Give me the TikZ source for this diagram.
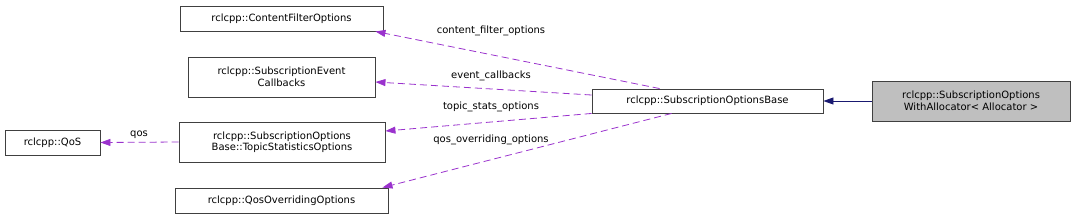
\documentclass[tikz,border=0pt]{standalone}
\usepackage{fontspec}
\setmainfont{DejaVu Sans}
\usetikzlibrary{calc,arrows.meta}
\definecolor{edgepurple}{HTML}{9A32CD}
\definecolor{inhnavy}{HTML}{191970}
\tikzset{
  cls/.style={draw=black!75, line width=0.9pt, inner sep=2pt, align=center, font=\fontsize{10}{11.5}\selectfont, minimum height=#1},
  cls/.default=25pt,
  usage/.style={draw=edgepurple, dashed, dash pattern=on 7pt off 4pt, line width=0.8pt, -{Triangle[length=10pt,width=7pt]}},
  inh/.style={draw=inhnavy, line width=0.8pt, -{Triangle[length=10pt,width=7pt,fill=inhnavy]}},
  elabel/.style={font=\fontsize{10}{11.5}\selectfont, inner sep=1pt}
}
\begin{document}
\begin{tikzpicture}[x=1pt,y=-1pt]
\useasboundingbox (0,0) rectangle (1076,220);
\node[cls, minimum width=203pt] (cfo) at (281.5,18.5) {rclcpp::ContentFilterOptions};
\node[cls=40pt, minimum width=187pt] (sec) at (281.5,77) {rclcpp::SubscriptionEvent\\Callbacks};
\node[cls=40pt, minimum width=206pt] (tso) at (282,142) {rclcpp::SubscriptionOptions\\Base::TopicStatisticsOptions};
\node[cls, minimum width=213pt] (qoo) at (281.5,200.5) {rclcpp::QosOverridingOptions};
\node[cls, minimum width=95pt] (qos) at (52.5,142.5) {rclcpp::QoS};
\node[cls=24pt, minimum width=231pt] (base) at (707.5,101) {rclcpp::SubscriptionOptionsBase};
\node[cls=40pt, minimum width=198pt, fill=black!25] (wa) at (971,101) {rclcpp::SubscriptionOptions\\WithAllocator< Allocator >};

\draw[inh] (wa.west) -- (base.east);
\draw[usage] ($(base.north west)+(68,0)$) -- ($(cfo.south east)+(-8,0)$);
\draw[usage] ($(base.west)+(0,-6)$) -- ($(sec.east)+(0,5)$);
\draw[usage] ($(base.south west)+(0,0)$) -- ($(tso.east)+(0,-11)$);
\draw[usage] ($(base.south west)+(80,0)$) -- ($(qoo.north east)+(-6,0)$);
\draw[usage] (tso.west) -- (qos.east);

\node[elabel] (l1) at (491,31) {content\_filter\_options};
\node[elabel] (l2) at (491,76) {event\_callbacks};
\node[elabel] (l3) at (491,107) {topic\_stats\_options};
\node[elabel] (l4) at (491,140) {qos\_overriding\_options};
\node[elabel] (l5) at (139,135) {qos};
\end{tikzpicture}
\end{document}
